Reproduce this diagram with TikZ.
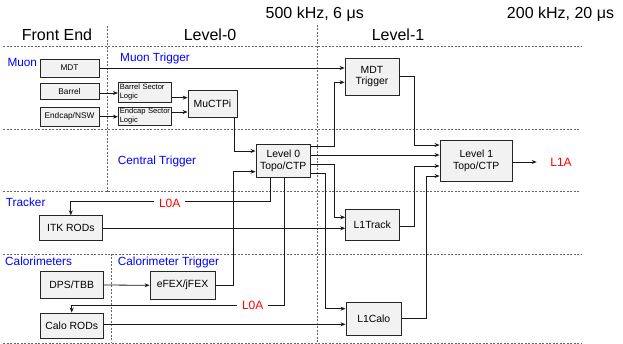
\documentclass[tikz,border=0pt]{standalone}
\usepackage{fontspec}
\setmainfont{Liberation Sans}
\usetikzlibrary{arrows.meta}
\begin{document}
\begin{tikzpicture}[x=1pt,y=-1pt,
  box/.style={draw=black!85, fill=black!5, line width=0.8pt, inner sep=0pt, align=center, font=\fontsize{10.4}{11.7}\selectfont},
  sbox/.style={box, font=\fontsize{8.3}{9.5}\selectfont},
  slbox/.style={box, font=\fontsize{7.6}{8.8}\selectfont, align=left, text width=50.5pt},
  wire/.style={line width=0.8pt, black!90},
  arr/.style={wire, -{Stealth[length=5pt,width=4pt]}},
  sep/.style={draw=black!60, line width=0.5pt, dash pattern=on 2pt off 1.5pt},
  title/.style={font=\fontsize{16}{18}\selectfont, anchor=base, inner sep=0pt},
  region/.style={text=blue, font=\fontsize{11.8}{13}\selectfont, anchor=base west, inner sep=0pt},
  sig/.style={text=red, font=\fontsize{12}{13}\selectfont, fill=white, inner xsep=5pt, inner ysep=1pt}
]
\useasboundingbox (0,0) rectangle (623,344);

% separators
\draw[sep] (3,46) -- (582,46);
\draw[sep] (3,129.3) -- (580,129.3);
\draw[sep] (3,191.7) -- (580,191.7);
\draw[sep] (3,254) -- (582,254);
\draw[sep] (3,343) -- (582,343);
\draw[sep] (107.3,26) -- (107.3,191.7);
\draw[sep] (111,254) -- (111,343);
\draw[sep] (317.3,25) -- (317.3,343);

% titles
\node[title] (t500) at (314.7,18.5) {500 kHz, 6 μs};
\node[title] (t200) at (560.5,18.5) {200 kHz, 20 μs};
\node[title] (tfe) at (57,40.7) {Front End};
\node[title] (tl0) at (210,40.7) {Level-0};
\node[title] (tl1) at (398,40.7) {Level-1};

% region labels
\node[region] (rmuon) at (7.3,66.7) {Muon};
\node[region] (rmuontrig) at (120,61.7) {Muon Trigger};
\node[region] (rcentral) at (117.7,164.3) {Central Trigger};
\node[region] (rtracker) at (5.7,206.7) {Tracker};
\node[region] (rcalo) at (5,266) {Calorimeters};
\node[region] (rcalotrig) at (117.7,266) {Calorimeter Trigger};

% boxes
\node[sbox, minimum width=59pt, minimum height=18pt] (mdtfe) at (69.5,68) {MDT};
\node[sbox, minimum width=59pt, minimum height=16pt] (barrel) at (69.5,91.5) {Barrel};
\node[sbox, minimum width=59pt, minimum height=19pt] (endcap) at (69.5,116.5) {Endcap/NSW};
\node[slbox, minimum width=53.3pt, minimum height=20.7pt] (bsl) at (145,92.3) {Barrel Sector\\Logic};
\node[slbox, minimum width=53.3pt, minimum height=18.7pt] (esl) at (145,116.3) {Endcap Sector\\Logic};
\node[box, minimum width=49pt, minimum height=27pt] (muctpi) at (212.5,103.5) {MuCTPi};
\node[box, minimum width=54pt, minimum height=37pt] (mdttrig) at (372,76.5) {MDT\\Trigger};
\node[box, minimum width=54.7pt, minimum height=33.7pt] (lvl0) at (283.3,160.8) {Level 0\\Topo/CTP};
\node[box, minimum width=72.7pt, minimum height=41.7pt] (lvl1) at (476.3,160.8) {Level 1\\Topo/CTP};
\node[box, minimum width=53.3pt, minimum height=30.7pt] (l1track) at (372.3,224.7) {L1Track};
\node[box, minimum width=63pt, minimum height=25pt] (itk) at (70.8,228.2) {ITK RODs};
\node[box, minimum width=63.3pt, minimum height=26.7pt] (dps) at (71.7,285) {DPS/TBB};
\node[box, minimum width=65pt, minimum height=27.3pt] (efex) at (182.5,285.3) {eFEX/jFEX};
\node[box, minimum width=63.3pt, minimum height=25pt] (calorods) at (71.7,325.5) {Calo RODs};
\node[box, minimum width=55.7pt, minimum height=32.3pt] (l1calo) at (373.8,318.8) {L1Calo};

% connectors
\draw[arr] (mdtfe.east) -- (mdttrig.west |- mdtfe.east);
\draw[arr] (barrel.east |- 0,93) -- (bsl.west |- 0,93);
\draw[arr] (endcap.east |- 0,116.7) -- (esl.west |- 0,116.7);
\draw[arr] (bsl.east |- 0,97.7) -- (muctpi.west |- 0,97.7);
\draw[arr] (esl.east |- 0,112) -- (muctpi.west |- 0,112);
\draw[arr] (muctpi.south -| 234,0) |- (lvl0.west |- 0,151);
\draw[arr] (lvl0.east |- 0,146) -| (334.3,82.3) -- (mdttrig.west |- 0,82.3);
\draw[arr] (lvl0.east |- 0,155) -- (lvl1.west |- 0,155);
\draw[arr] (lvl0.east |- 0,164.3) -| (334.3,217.3) -- (l1track.west |- 0,217.3);
\draw[arr] (lvl0.east |- 0,173.3) -| (325,308.7) -- (l1calo.west |- 0,308.7);
\draw[arr] (mdttrig.east |- 0,76.7) -| (414,145) -- (lvl1.west |- 0,145);
\draw[arr] (l1track.east |- 0,226.7) -| (414.3,166) -- (lvl1.west |- 0,166);
\draw[arr] (l1calo.east |- 0,318.3) -| (426,176) -- (lvl1.west |- 0,176);
\coordinate (l1aend) at (536.7,162);
\draw[arr] (lvl1.east |- l1aend) -- (l1aend);
\draw[arr] (lvl0.south -| 270.7,0) |- (itk.north |- 0,201.7) -- (itk.north);
\draw[arr] (lvl0.south -| 284,0) |- (calorods.north |- 0,305) -- (calorods.north);
\draw[arr] (efex.east) -| (233.3,171.7) -- (lvl0.west |- 0,171.7);
\draw[arr] (dps.east) -- (efex.west);
\draw[arr] (itk.east |- 0,228.3) -- (l1track.west |- 0,228.3);
\draw[arr] (calorods.east |- 0,324.3) -- (l1calo.west |- 0,324.3);

% signal labels
\node[sig] (l0a1) at (169.7,203.5) {L0A};
\node[sig] (l0a2) at (252.7,305.5) {L0A};
\node[sig, fill=none] (l1a) at (561,162.5) {L1A};
\end{tikzpicture}
\end{document}
